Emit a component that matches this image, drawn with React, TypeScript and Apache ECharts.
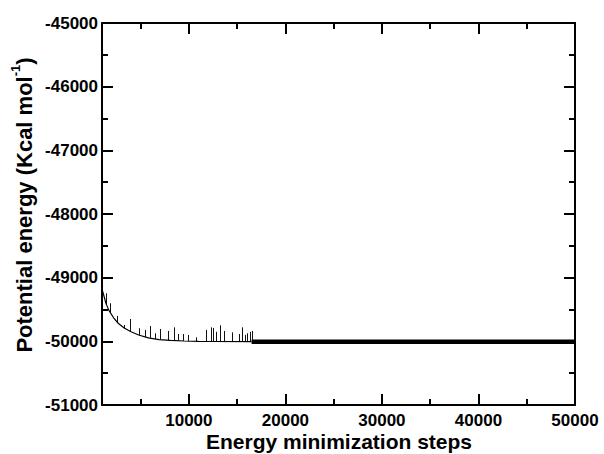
import React, { useEffect, useRef } from "react";
import * as echarts from "echarts";

const curveSteps = [1000, 1100, 1400, 1700, 2200, 2700, 3300, 4000, 4800, 5800, 6900, 8100, 9500, 11000, 12500, 16500];
const curveEnergy = [-49180, -49230, -49400, -49510, -49630, -49720, -49790, -49850, -49900, -49945, -49972, -49985, -49995, -50000, -50003, -50005];

const plateauSteps = [16500, 50000];
const plateauEnergy = [-50005, -50005];

// [step, base energy, spike peak energy]
const spikes: [number, number, number][] = [
  [1490, -49430, -49245], [1830, -49540, -49402], [2600, -49705, -49601], [3280, -49795, -49743],
  [3900, -49845, -49649], [4900, -49903, -49795], [5520, -49932, -49821], [5970, -49945, -49759],
  [6560, -49963, -49874], [7000, -49972, -49806], [7830, -49982, -49837], [8450, -49987, -49780],
  [8900, -49990, -49885], [9380, -49993, -49885], [9940, -49996, -49900], [10800, -49999, -49937],
  [11830, -50001, -49821], [12320, -50002, -49780], [12520, -50003, -49790], [12860, -50003, -49850],
  [13280, -50003, -49749], [13620, -50004, -49837], [14520, -50004, -49859], [15240, -50004, -49885],
  [15580, -50004, -49780], [15860, -50005, -49900], [16040, -50005, -49874], [16310, -50005, -49850],
  [16560, -50005, -49837],
];

const xMajor = [10000, 20000, 30000, 40000, 50000];
const xMinor = [5000, 15000, 25000, 35000, 45000];

const FONT = "Liberation Sans, Arial, sans-serif";

export default function App() {
  const ref = useRef<HTMLDivElement>(null);
  useEffect(() => {
    if (!ref.current) return;
    const chart = echarts.init(ref.current, undefined, { renderer: "svg" });
    const lineStyle = { color: "#000", width: 2 };
    const fmt = (v: number) => String(v);
    const xBase = (pos: "top" | "bottom", major: boolean, labels: boolean) => ({
      type: "value",
      position: pos,
      min: 1000,
      max: 50000,
      splitLine: { show: false },
      axisLine: { show: major, lineStyle, onZero: false },
      axisTick: {
        show: true,
        inside: true,
        length: major ? 11 : 6,
        lineStyle: { color: "#000", width: 2 },
        customValues: major ? xMajor : xMinor,
      },
      axisLabel: labels
        ? { show: true, customValues: xMajor, formatter: fmt, color: "#000", fontFamily: FONT, fontWeight: "bold", fontSize: 17, margin: 7 }
        : { show: false },
    });
    const yBase = (pos: "left" | "right", labels: boolean) => ({
      type: "value",
      position: pos,
      min: -51000,
      max: -45000,
      interval: 1000,
      splitLine: { show: false },
      axisLine: { show: true, lineStyle, onZero: false },
      axisTick: { show: true, inside: true, length: 11, lineStyle: { color: "#000", width: 2 } },
      minorTick: { show: true, splitNumber: 2, length: 6, lineStyle: { color: "#000", width: 2 } },
      axisLabel: labels
        ? { show: true, formatter: fmt, color: "#000", fontFamily: FONT, fontWeight: "bold", fontSize: 17, margin: 4 }
        : { show: false },
    });
    chart.setOption({
      animation: false,
      backgroundColor: "#fff",
      grid: { left: 102, right: 29, top: 23, bottom: 49, containLabel: false },
      xAxis: [xBase("bottom", true, true), xBase("bottom", false, false), xBase("top", true, false), xBase("top", false, false)],
      yAxis: [yBase("left", true), yBase("right", false)],
      graphic: [
        {
          type: "text",
          x: 339,
          y: 441,
          style: {
            text: "Energy minimization steps",
            fill: "#000",
            font: `bold 21px ${FONT}`,
            align: "center",
            verticalAlign: "middle",
          },
        },
        {
          type: "text",
          x: 24,
          y: 205,
          rotation: Math.PI / 2,
          style: {
            text: "{main|Potential energy (Kcal mol}{sup|-1}{main|)}",
            fill: "#000",
            align: "center",
            verticalAlign: "middle",
            rich: {
              main: { fill: "#000", fontSize: 22, fontWeight: "bold", fontFamily: FONT, lineHeight: 30 },
              sup: { fill: "#000", fontSize: 13, fontWeight: "bold", fontFamily: FONT, verticalAlign: "top", lineHeight: 12 },
            },
          },
        },
      ],
      series: [
        {
          type: "line",
          xAxisIndex: 0,
          yAxisIndex: 0,
          data: curveSteps.map((s, i) => [s, curveEnergy[i]]),
          showSymbol: false,
          symbol: "none",
          lineStyle: { color: "#000", width: 1.2 },
        },
        {
          type: "line",
          xAxisIndex: 0,
          yAxisIndex: 0,
          data: plateauSteps.map((s, i) => [s, plateauEnergy[i]]),
          showSymbol: false,
          symbol: "none",
          lineStyle: { color: "#000", width: 4.5 },
        },
        {
          type: "lines",
          coordinateSystem: "cartesian2d",
          xAxisIndex: 0,
          yAxisIndex: 0,
          data: spikes.map(([s, b, p]) => ({ coords: [[s, b], [s, p]] })),
          lineStyle: { color: "#111", width: 1, opacity: 1 },
        },
      ],
    });
    return () => chart.dispose();
  }, []);
  return <div ref={ref} style={{ position: "fixed", left: 0, top: 0, width: 604, height: 454 }} />;
}
